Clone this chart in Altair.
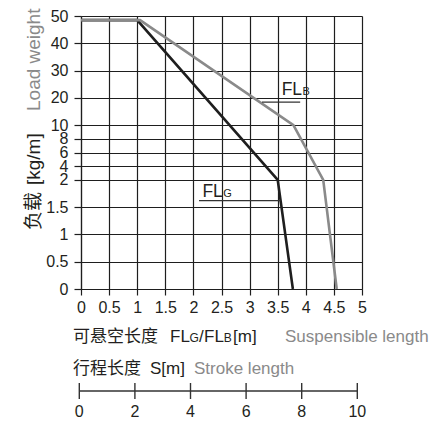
import altair as alt
import pandas as pd

# ---------------- data ----------------
fl_g = [0.0, 1.0, 3.5, 3.77]            # FLG suspensible length [m]
load_g = [48.5, 48.5, 2.0, 0.0]         # load weight [kg/m]
fl_b = [0.0, 1.05, 3.78, 4.31, 4.55]    # FLB suspensible length [m]
load_b = [48.5, 48.5, 10.0, 2.0, 0.0]

x_ticks = [0, 0.5, 1, 1.5, 2, 2.5, 3, 3.5, 4, 4.5, 5]
y_ticks = [0, 0.5, 1, 1.5, 2, 4, 6, 8, 10, 20, 30, 40, 50]
y_rows = [0, 1, 2, 3, 4, 4.5, 5, 5.5, 6, 7, 8, 9, 10]   # relative grid row spacing
stroke_ticks = [0, 2, 4, 6, 8, 10]

# leader lines of the curve labels (data space)
leader_x1 = [2.10, 3.22]
leader_x2 = [3.55, 3.90]
leader_y = [1.62, 18.46]
# curve labels (data space)
lab_main = ["FL", "FL"]
lab_sub = ["G", "B"]
lab_x = [2.16, 3.57]
lab_sub_x = [2.53, 3.94]
lab_y = [1.68, 21.1]

# ---------------- styling ----------------
W, H = 281, 273
FONT = "Liberation Sans, Noto Sans CJK SC, sans-serif"
BLACK = "#231f20"
GRAY = "#8a8a8a"
LINEC = "#1e1e1e"

y_range = [H - r * H / 10 for r in y_rows]
xs = alt.Scale(domain=[0, 5], nice=False, zero=False)
ys = alt.Scale(type="linear", domain=y_ticks, range=y_range, nice=False, zero=False)

df_g = pd.DataFrame({"fl": fl_g, "load": load_g, "i": range(len(fl_g))})
df_b = pd.DataFrame({"fl": fl_b, "load": load_b, "i": range(len(fl_b))})

xaxis = alt.Axis(values=x_ticks, labelExpr="datum.value + ''", grid=True, title=None,
                 tickSize=6, labelPadding=4, labelFontSize=16, labelFont=FONT,
                 labelColor=BLACK, labelFlush=False, labelOverlap=False, labelBound=False)
yaxis = alt.Axis(values=y_ticks, labelExpr="datum.value + ''", grid=True, title=None,
                 tickSize=7, labelPadding=6, labelFontSize=16, labelFont=FONT,
                 labelColor=BLACK, labelFlush=False, labelOverlap=False, labelBound=False)


def X(field):
    return alt.X(field, scale=xs, axis=xaxis)


def Y(field):
    return alt.Y(field, scale=ys, axis=yaxis)


line_g = alt.Chart(df_g).mark_line(color=LINEC, strokeWidth=2.6).encode(
    x=X("fl:Q"), y=Y("load:Q"), order="i:Q")
line_b = alt.Chart(df_b).mark_line(color=GRAY, strokeWidth=2.6).encode(
    x=X("fl:Q"), y=Y("load:Q"), order="i:Q")

df_lead = pd.DataFrame({"x1": leader_x1, "x2": leader_x2, "y": leader_y})
leaders = alt.Chart(df_lead).mark_rule(color="#333333", strokeWidth=1.3).encode(
    x=X("x1:Q"), x2="x2:Q", y=Y("y:Q"))
df_lab = pd.DataFrame({"t": lab_main, "s": lab_sub, "x": lab_x, "xs": lab_sub_x, "y": lab_y})
lab1 = alt.Chart(df_lab).mark_text(font=FONT, fontSize=17.5, color=BLACK, align="left",
                                   baseline="alphabetic").encode(
    x=X("x:Q"), y=Y("y:Q"), text="t:N")
lab2 = alt.Chart(df_lab).mark_text(font=FONT, fontSize=11, color=BLACK, align="left",
                                   baseline="alphabetic").encode(
    x=X("xs:Q"), y=Y("y:Q"), text="s:N")

one = pd.DataFrame({"a": [0]})


def label(txt, x, y, size=17, color=BLACK, angle=None, baseline="alphabetic"):
    kw = dict(text=txt, font=FONT, fontSize=size, color=color, align="left", baseline=baseline)
    if angle is not None:
        kw["angle"] = angle
    return alt.Chart(one).mark_text(**kw).encode(x=alt.value(x), y=alt.value(y))


texts = [
    # y title (rotated)
    label("负载", -47, 214, 19, BLACK, 270, "middle"),
    label("[kg/m]", -47, 169, 19, BLACK, 270, "middle"),
    label("Load weight", -47, 95, 19, GRAY, 270, "middle"),
    # x title line 1
    label("可悬空长度", -8, 326),
    label("FL", 89, 326),
    label("G", 108.5, 326, 12),
    label("/", 118, 326),
    label("FL", 123, 326),
    label("B", 142.8, 326, 12),
    label("[m]", 152, 326),
    label("Suspensible length", 204, 326, 17, GRAY),
    # x title line 2
    label("行程长度", -8, 357.5),
    label("S[m]", 69, 357.5),
    label("Stroke length", 113, 357.5, 17, GRAY),
]

main = alt.layer(line_g, line_b, leaders, lab1, lab2, *texts)

# stroke-length scale bar
sx = alt.Scale(domain=[0, 10], range=[-1.7, 276.3], nice=False, zero=False)
df_s = pd.DataFrame({"S": stroke_ticks})
df_bar = pd.DataFrame({"s0": [stroke_ticks[0]], "s1": [stroke_ticks[-1]]})
bar_line = alt.Chart(df_bar).mark_rule(color="#333333", strokeWidth=1.4).encode(
    x=alt.X("s0:Q", scale=sx, axis=None), x2="s1:Q", y=alt.value(375))
bar_ticks = alt.Chart(df_s).mark_rule(color="#333333", strokeWidth=1.4).encode(
    x=alt.X("S:Q", scale=sx, axis=None), y=alt.value(367), y2=alt.value(383))
bar_labels = alt.Chart(df_s).mark_text(font=FONT, fontSize=16, color=BLACK,
                                        baseline="alphabetic").encode(
    x=alt.X("S:Q", scale=sx, axis=None), y=alt.value(401), text="S:Q")
bar = alt.layer(bar_line, bar_ticks, bar_labels)

chart = alt.layer(main, bar).resolve_scale(x="independent").properties(
    width=W, height=H,
    autosize=alt.AutoSizeParams(type="none"),
    padding={"left": 73, "top": 8, "right": 67, "bottom": 130},
).configure_view(stroke=None).configure_axis(
    gridColor=LINEC, gridWidth=1.2, gridOpacity=1,
    domainColor=LINEC, domainWidth=1.2,
    tickColor=LINEC, tickWidth=1.2,
)

chart.save("out.html", embed_options={"renderer": "svg", "actions": False})
